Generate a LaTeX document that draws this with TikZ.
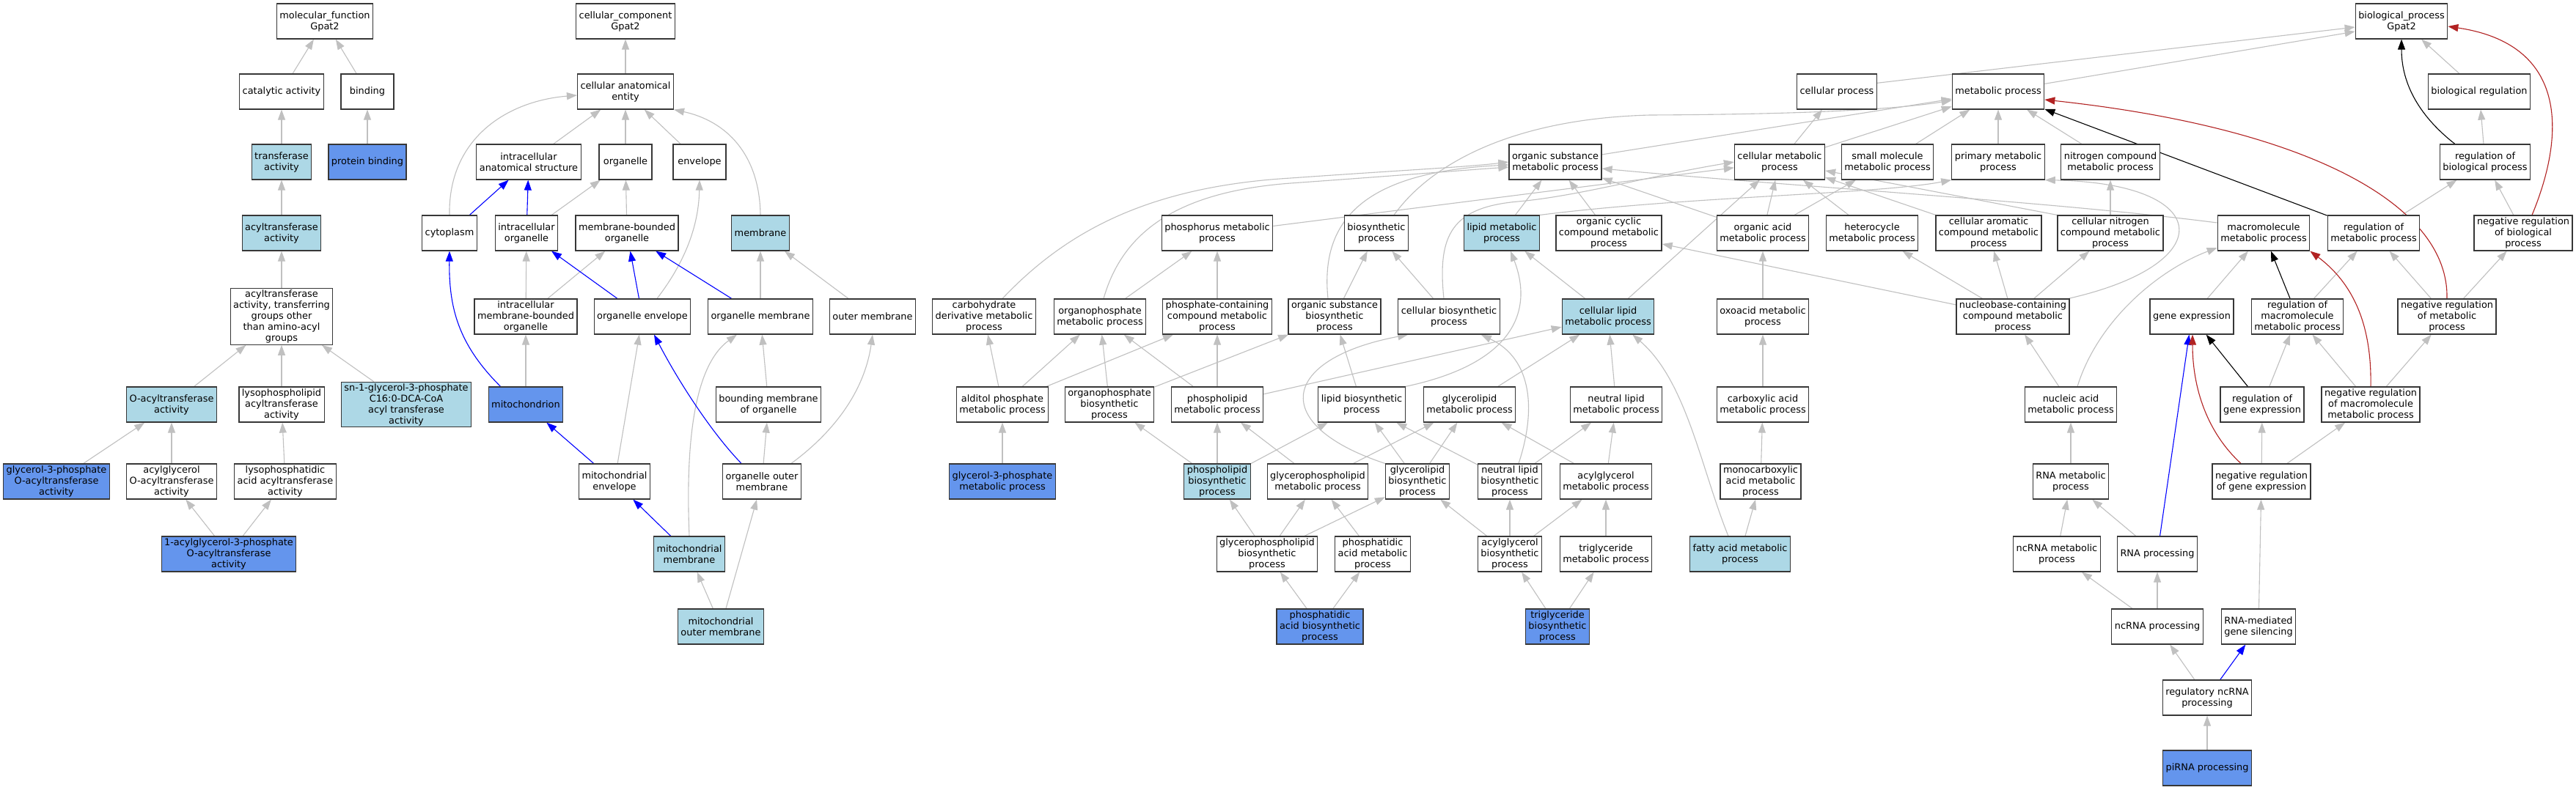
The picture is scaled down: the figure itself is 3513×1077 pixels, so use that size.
\documentclass[tikz,border=0pt]{standalone}
\usepackage{fontspec}
\setmainfont{DejaVu Sans}
\usetikzlibrary{arrows.meta,calc}
\definecolor{edgegray}{RGB}{192,192,192}
\definecolor{lblue}{RGB}{173,216,230}
\definecolor{cblue}{RGB}{100,149,237}
\definecolor{fred}{RGB}{178,34,34}
\definecolor{boxline}{RGB}{55,55,55}
\pgfdeclarelayer{bg}
\pgfsetlayers{bg,main}
\begin{document}
\begin{tikzpicture}[x=1pt,y=-1pt,
  nb/.style={draw=boxline,line width=1.2pt,fill=white,rectangle,align=center,
    inner xsep=4pt,inner ysep=2pt,minimum height=48pt,minimum width=72pt,
    font=\fontsize{12.9}{15}\selectfont,text=black},
  lb/.style={nb,fill=lblue},
  db/.style={nb,fill=cblue},
  ge/.style={draw=edgegray,line width=1.1pt,-{Triangle[length=14pt,width=10pt]}},
  be/.style={ge,draw=blue},
  ke/.style={ge,draw=black},
  re/.style={ge,draw=fred}]
\useasboundingbox (0,0) rectangle (3513,1077);
% ---------------- molecular function
\node[nb] (mf) at (443,29) {molecular\_function\\Gpat2};
\node[nb] (cat) at (384,125) {catalytic activity};
\node[nb] (bind) at (501,125) {binding};
\node[lb] (trans) at (384,221) {transferase\\activity};
\node[db] (pbind) at (501,221) {protein binding};
\node[lb] (acyl) at (384,318) {acyltransferase\\activity};
\node[nb] (acyltg) at (384,432) {acyltransferase\\activity, transferring\\groups other\\than amino-acyl\\groups};
\node[lb] (oacyl) at (234,552) {O-acyltransferase\\activity};
\node[nb] (lpla) at (384,552) {lysophospholipid\\acyltransferase\\activity};
\node[lb] (sn1) at (554,552) {sn-1-glycerol-3-phosphate\\C16:0-DCA-CoA\\acyl transferase\\activity};
\node[db] (gpat) at (77,657) {glycerol-3-phosphate\\O-acyltransferase\\activity};
\node[nb] (agoa) at (234,657) {acylglycerol\\O-acyltransferase\\activity};
\node[nb] (lpaat) at (389,657) {lysophosphatidic\\acid acyltransferase\\activity};
\node[db] (agpat) at (312,756) {1-acylglycerol-3-phosphate\\O-acyltransferase\\activity};
% ---------------- cellular component
\node[nb] (cc) at (853,29) {cellular\_component\\Gpat2};
\node[nb] (cae) at (853,125) {cellular anatomical\\entity};
\node[nb] (ias) at (721,221) {intracellular\\anatomical structure};
\node[nb] (org) at (853,221) {organelle};
\node[nb] (env) at (954,221) {envelope};
\node[nb] (cyto) at (613,318) {cytoplasm};
\node[nb] (io) at (718,318) {intracellular\\organelle};
\node[nb] (mbo) at (855,318) {membrane-bounded\\organelle};
\node[lb] (mem) at (1037,318) {membrane};
\node[nb] (imbo) at (717,432) {intracellular\\membrane-bounded\\organelle};
\node[nb] (oenv) at (876,432) {organelle envelope};
\node[nb] (omem) at (1037,432) {organelle membrane};
\node[nb] (outm) at (1190,432) {outer membrane};
\node[db] (mito) at (717,552) {mitochondrion};
\node[nb] (bmo) at (1048,552) {bounding membrane\\of organelle};
\node[nb] (menv) at (838,657) {mitochondrial\\envelope};
\node[nb] (oom) at (1039,657) {organelle outer\\membrane};
\node[lb] (mmem) at (940,756) {mitochondrial\\membrane};
\node[lb] (mom) at (983,855) {mitochondrial\\outer membrane};
% ---------------- biological process
\node[nb] (bp) at (3275,29) {biological\_process\\Gpat2};
\node[nb] (cp) at (2505,125) {cellular process};
\node[nb] (mp) at (2725,125) {metabolic process};
\node[nb] (breg) at (3381,125) {biological regulation};
\node[nb] (osmp) at (2121,221) {organic substance\\metabolic process};
\node[nb] (cmp) at (2427,221) {cellular metabolic\\process};
\node[nb] (smmp) at (2574,221) {small molecule\\metabolic process};
\node[nb] (pmp) at (2725,221) {primary metabolic\\process};
\node[nb] (ncmp) at (2878,221) {nitrogen compound\\metabolic process};
\node[nb] (rbp) at (3389,221) {regulation of\\biological process};
\node[nb] (phos) at (1660,318) {phosphorus metabolic\\process};
\node[nb] (bsp) at (1877,318) {biosynthetic\\process};
\node[lb] (lmp) at (2048,318) {lipid metabolic\\process};
\node[nb] (occ) at (2194,318) {organic cyclic\\compound metabolic\\process};
\node[nb] (oa) at (2404,318) {organic acid\\metabolic process};
\node[nb] (het) at (2553,318) {heterocycle\\metabolic process};
\node[nb] (cac) at (2712,318) {cellular aromatic\\compound metabolic\\process};
\node[nb] (cnc) at (2878,318) {cellular nitrogen\\compound metabolic\\process};
\node[nb] (mmp) at (3087,318) {macromolecule\\metabolic process};
\node[nb] (rmp) at (3237,318) {regulation of\\metabolic process};
\node[nb] (nrbp) at (3441,318) {negative regulation\\of biological\\process};
\node[nb] (cdm) at (1342,432) {carbohydrate\\derivative metabolic\\process};
\node[nb] (opm) at (1500,432) {organophosphate\\metabolic process};
\node[nb] (pcc) at (1660,432) {phosphate-containing\\compound metabolic\\process};
\node[nb] (osb) at (1820,432) {organic substance\\biosynthetic\\process};
\node[nb] (cbp) at (1976,432) {cellular biosynthetic\\process};
\node[lb] (clmp) at (2193,432) {cellular lipid\\metabolic process};
\node[nb] (oxo) at (2404,432) {oxoacid metabolic\\process};
\node[nb] (nbc) at (2745,432) {nucleobase-containing\\compound metabolic\\process};
\node[nb] (ge) at (2989,432) {gene expression};
\node[nb] (rmmp) at (3133,432) {regulation of\\macromolecule\\metabolic process};
\node[nb] (nrmp) at (3337,432) {negative regulation\\of metabolic\\process};
\node[nb] (alp) at (1367,552) {alditol phosphate\\metabolic process};
\node[nb] (opb) at (1513,552) {organophosphate\\biosynthetic\\process};
\node[nb] (plm) at (1660,552) {phospholipid\\metabolic process};
\node[nb] (lbp) at (1857,552) {lipid biosynthetic\\process};
\node[nb] (glm) at (2004,552) {glycerolipid\\metabolic process};
\node[nb] (nlm) at (2204,552) {neutral lipid\\metabolic process};
\node[nb] (carb) at (2404,552) {carboxylic acid\\metabolic process};
\node[nb] (nac) at (2824,552) {nucleic acid\\metabolic process};
\node[nb] (rge) at (3085,552) {regulation of\\gene expression};
\node[nb] (nrmm) at (3233,552) {negative regulation\\of macromolecule\\metabolic process};
\node[db] (g3p) at (1367,657) {glycerol-3-phosphate\\metabolic process};
\node[lb] (plb) at (1660,657) {phospholipid\\biosynthetic\\process};
\node[nb] (gplm) at (1797,657) {glycerophospholipid\\metabolic process};
\node[nb] (glb) at (1933,657) {glycerolipid\\biosynthetic\\process};
\node[nb] (nlb) at (2059,657) {neutral lipid\\biosynthetic\\process};
\node[nb] (agm) at (2190,657) {acylglycerol\\metabolic process};
\node[nb] (mca) at (2401,657) {monocarboxylic\\acid metabolic\\process};
\node[nb] (rnam) at (2824,657) {RNA metabolic\\process};
\node[nb] (nrge) at (3084,657) {negative regulation\\of gene expression};
\node[nb] (gplb) at (1728,756) {glycerophospholipid\\biosynthetic\\process};
\node[nb] (pam) at (1872,756) {phosphatidic\\acid metabolic\\process};
\node[nb] (agb) at (2059,756) {acylglycerol\\biosynthetic\\process};
\node[nb] (tgm) at (2190,756) {triglyceride\\metabolic process};
\node[lb] (fam) at (2373,756) {fatty acid metabolic\\process};
\node[nb] (ncrm) at (2805,756) {ncRNA metabolic\\process};
\node[nb] (rnap) at (2942,756) {RNA processing};
\node[db] (pab) at (1800,855) {phosphatidic\\acid biosynthetic\\process};
\node[db] (tgb) at (2124,855) {triglyceride\\biosynthetic\\process};
\node[nb] (ncrp) at (2942,855) {ncRNA processing};
\node[nb] (rmgs) at (3080,855) {RNA-mediated\\gene silencing};
\node[nb] (rncp) at (3010,952) {regulatory ncRNA\\processing};
\node[db] (pirna) at (3010,1048) {piRNA processing};
% ---------------- edges
\begin{pgfonlayer}{bg}
\fill[white] (0,0) rectangle (3513,1077);
\foreach \a/\b in {cat/mf,bind/mf,trans/cat,pbind/bind,acyl/trans,acyltg/acyl,oacyl/acyltg,lpla/acyltg,sn1/acyltg,gpat/oacyl,agoa/oacyl,lpaat/lpla,agpat/agoa,agpat/lpaat,
  cae/cc,ias/cae,org/cae,env/cae,io/org,mbo/org,imbo/io,imbo/mbo,omem/mem,outm/mem,mito/imbo,menv/oenv,bmo/omem,oom/bmo,mom/mmem,mom/oom,
  breg/bp,cmp/cp,cmp/mp,smmp/mp,pmp/mp,ncmp/mp,osmp/mp,rbp/breg,phos/cmp,lmp/osmp,occ/osmp,oa/cmp,oa/smmp,oa/osmp,het/cmp,cac/cmp,cnc/ncmp,rmp/rbp,nrbp/rbp,
  opm/phos,pcc/phos,osb/bsp,cbp/bsp,clmp/lmp,clmp/cmp,oxo/oa,nbc/het,nbc/cac,nbc/cnc,nbc/occ,ge/mmp,rmmp/rmp,nrmp/rmp,nrmp/nrbp,
  alp/cdm,alp/opm,alp/pcc,opb/opm,opb/osb,plm/opm,plm/pcc,plm/clmp,lbp/osb,glm/clmp,nlm/clmp,carb/oxo,nac/nbc,rge/rmmp,nrmm/rmmp,nrmm/nrmp,
  g3p/alp,plb/opb,plb/plm,plb/lbp,gplm/plm,gplm/glm,glb/lbp,glb/glm,nlb/lbp,nlb/nlm,agm/glm,agm/nlm,mca/carb,rnam/nac,nrge/rge,nrge/nrmm,
  gplb/plb,gplb/gplm,gplb/glb,pam/gplm,agb/glb,agb/nlb,agb/agm,tgm/agm,fam/mca,ncrm/rnam,rnap/rnam,
  pab/gplb,pab/pam,tgb/agb,tgb/tgm,ncrp/ncrm,ncrp/rnap,rmgs/nrge,rncp/ncrp,pirna/rncp}
  \draw[ge] (\a) -- (\b);
\draw[ge] (cnc.north west) -- (cmp);
\draw[ge] (cp.12) -- ($(bp.west)+(0,8)$);
\draw[ge] (mp) -- ($(bp.west)+(0,14)$);
% gray curves (cellular component)
\draw[ge] (cyto.north) .. controls (611,190) and (690,138) .. ($(cae.west)+(0,5)$);
\draw[ge] (mem.north) .. controls (1036,210) and (990,165) .. (cae.south east);
\draw[ge] ($(oenv.north)+(20,0)$) .. controls (940,350) and (953,300) .. (env.south);
\draw[ge] (mmem.north) .. controls (935,610) and (945,500) .. ($(omem.south west)+(40,0)$);
\draw[ge] ($(oom.north east)+(-14,0)$) .. controls (1130,595) and (1178,540) .. (outm.south);
% blue (cellular component)
\foreach \a/\b in {cyto/ias,io/ias,oenv/io,oenv/mbo,omem/mbo,menv/mito,mmem/menv}
  \draw[be] (\a) -- (\b);
\draw[be] ($(mito.north west)+(17,0)$) .. controls (625,470) and (612,420) .. (cyto.south);
\draw[be] ($(oom.north west)+(26,0)$) .. controls (970,590) and (925,520) .. ($(oenv.south)+(16,0)$);
% gray curves (biological process)
\draw[ge] ($(bsp.north)+(24,0)$) .. controls (1950,225) and (2060,162) .. (2250,157) .. controls (2450,156) and (2580,150) .. ($(mp.west)+(0,12)$);
\draw[ge] ($(osb.north)+(-9,0)$) .. controls (1800,300) and (1860,235) .. ($(osmp.west)+(0,4)$);
\draw[ge] ($(cdm.north)+(25,0)$) .. controls (1450,320) and (1560,255) .. (1760,243) .. controls (1900,233) and (2000,228) .. (osmp.west);
\draw[ge] ($(opm.north)+(5,0)$) .. controls (1530,320) and (1600,262) .. (1760,250) .. controls (1900,240) and (2000,232) .. ($(osmp.west)+(0,7)$);
\draw[ge] ($(cbp.north)+(-7,0)$) .. controls (1960,320) and (1980,283) .. (2070,275) .. controls (2150,268) and (2250,240) .. (cmp.west);
\draw[ge] (lmp.north east) .. controls (2300,268) and (2560,265) .. (pmp.south west);
\draw[ge] ($(mmp.west)+(0,-14)$) .. controls (2800,275) and (2450,255) .. ($(osmp.east)+(0,9)$);
\draw[ge] ($(nbc.north east)+(-2,0)$) .. controls (3030,360) and (3020,250) .. (pmp.south east);
\draw[ge] ($(nac.north)+(9,0)$) .. controls (2860,440) and (2940,370) .. ($(mmp.west)+(0,20)$);
\draw[ge] ($(fam.north west)+(53,0)$) .. controls (2320,640) and (2300,520) .. ($(clmp.south east)+(-30,0)$);
\draw[ge] (lbp.north east) .. controls (2070,495) and (2090,420) .. ($(lmp.south)+(12,0)$);
\draw[ge] (glb.north west) .. controls (1730,580) and (1745,490) .. ($(cbp.south west)+(14,0)$);
\draw[ge] ($(nlb.north)+(12,0)$) .. controls (2095,560) and (2090,490) .. ($(cbp.south east)+(-26,0)$);
% coloured (biological process)
\draw[be] (rnap) -- (ge);
\draw[be] (rncp) -- (rmgs);
\draw[ke] (rmp) -- (mp);
\draw[ke] (rmmp) -- (mmp);
\draw[ke] (rge) -- (ge);
\draw[ke] ($(rbp.north west)+(21,0)$) .. controls (3295,155) and (3275,110) .. (bp.south);
\draw[re] ($(nrbp.north)+(12,0)$) .. controls (3500,180) and (3500,60) .. ($(bp.east)+(0,7)$);
\draw[re] (nrmp.north) .. controls (3340,280) and (3150,175) .. ($(mp.east)+(0,11)$);
\draw[re] (nrmm.north) .. controls (3235,430) and (3200,380) .. (mmp.south east);
\draw[re] ($(nrge.north)+(-28,0)$) .. controls (3010,590) and (2990,530) .. ($(ge.south)+(1,0)$);
\end{pgfonlayer}
\end{tikzpicture}
\end{document}
